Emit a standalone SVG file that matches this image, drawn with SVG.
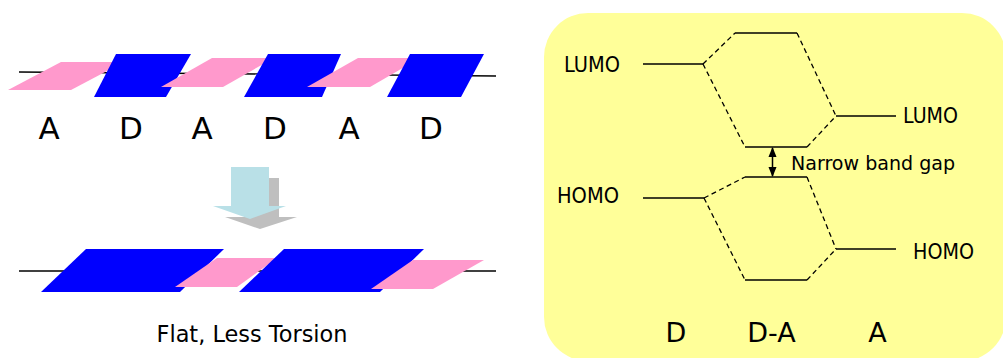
<svg xmlns="http://www.w3.org/2000/svg" width="1003" height="358" viewBox="0 0 1003 358">
<defs>
<style>
.pink{fill:#FF99CC}
.blue{fill:#0000FF}
.axis{stroke:#000;stroke-width:1.3;fill:none}
.lvl{stroke:#000;stroke-width:1.5;fill:none}
.dash{stroke:#000;stroke-width:1.3;fill:none;stroke-dasharray:5,3.5}
.t{font-family:"DejaVu Sans",Verdana,sans-serif;fill:#000}
</style>
<marker id="ah" viewBox="0 0 10 10" refX="9" refY="5" markerWidth="7" markerHeight="7" orient="auto-start-reverse">
<path d="M0,1 L10,5 L0,9 Z" fill="#000"/>
</marker>
</defs>
<rect width="1003" height="358" fill="#fff"/>

<g id="chain-twisted">
<line class="axis" x1="19" y1="72" x2="496" y2="76"/>
<polygon class="pink" points="61,62 124,62 71,90 8,90"/>
<polygon class="blue" points="116,54 191,54 166,97 94,97"/>
<polygon class="pink" points="212,58 274,58 223,87 161,87"/>
<polygon class="blue" points="268,54 341,54 322,97 244,97"/>
<polygon class="pink" points="358,58 420,58 370,87 307,87"/>
<polygon class="blue" points="410,54 484,54 461,97 387,97"/>
</g>
<g id="chain-labels">
<text class="t" x="49" y="139" font-size="31" text-anchor="middle">A</text>
<text class="t" x="131" y="139" font-size="31" text-anchor="middle">D</text>
<text class="t" x="202" y="139" font-size="31" text-anchor="middle">A</text>
<text class="t" x="275" y="139" font-size="31" text-anchor="middle">D</text>
<text class="t" x="349" y="139" font-size="31" text-anchor="middle">A</text>
<text class="t" x="431" y="139" font-size="31" text-anchor="middle">D</text>
</g>

<g id="down-arrow">
<polygon fill="#BFBFBF" points="245,178 279,178 279,217 297,217 260,229 225,217 245,217"/>
<polygon fill="#B9E0E7" points="231,167 269,167 269,206 286,206 250,219 213,206 231,206"/>
</g>

<g id="chain-flat">
<line class="axis" x1="19" y1="271" x2="496" y2="271"/>
<polygon class="blue" points="86,249 224,249 180,292 41,292"/>
<polygon class="pink" points="217,258 277,258 237,287 175,287"/>
<polygon class="blue" points="284,249 424,249 380,292 239,292"/>
<polygon class="pink" points="413,260 484,260 433,289 371,289"/>
<text class="t" x="252" y="342" font-size="23" text-anchor="middle" textLength="191" lengthAdjust="spacingAndGlyphs">Flat, Less Torsion</text>
</g>

<g id="energy-panel">
<rect x="544" y="13" width="462" height="348" rx="44" ry="44" fill="#FFFF99"/>
</g>

<g id="connectors">
<line class="lvl" x1="643" y1="64" x2="703" y2="64"/>
<line class="lvl" x1="735" y1="33" x2="797" y2="33"/>
<line class="lvl" x1="836" y1="116" x2="896" y2="116"/>
<line class="lvl" x1="745" y1="147" x2="807" y2="147"/>
<line class="dash" x1="703" y1="64" x2="735" y2="33"/>
<line class="dash" x1="797" y1="33" x2="836" y2="116"/>
<line class="dash" x1="703" y1="64" x2="745" y2="147"/>
<line class="dash" x1="807" y1="147" x2="836" y2="116"/>

<line class="lvl" x1="643" y1="198" x2="704" y2="198"/>
<line class="lvl" x1="745" y1="177" x2="807" y2="177"/>
<line class="lvl" x1="836" y1="249" x2="896" y2="249"/>
<line class="lvl" x1="745" y1="280" x2="807" y2="280"/>
<line class="dash" x1="704" y1="198" x2="745" y2="177"/>
<line class="dash" x1="807" y1="177" x2="836" y2="249"/>
<line class="dash" x1="704" y1="198" x2="745" y2="280"/>
<line class="dash" x1="807" y1="280" x2="836" y2="249"/>

<line x1="772.5" y1="148" x2="772.5" y2="176" stroke="#000" stroke-width="1.5" marker-start="url(#ah)" marker-end="url(#ah)"/>
</g>

<g id="level-labels">
<text class="t" x="564" y="72" font-size="21" textLength="56" lengthAdjust="spacingAndGlyphs">LUMO</text>
<text class="t" x="903" y="123" font-size="21" textLength="55" lengthAdjust="spacingAndGlyphs">LUMO</text>
<text class="t" x="557" y="203" font-size="21" textLength="62" lengthAdjust="spacingAndGlyphs">HOMO</text>
<text class="t" x="913" y="259" font-size="21" textLength="61" lengthAdjust="spacingAndGlyphs">HOMO</text>
<text class="t" x="791" y="170" font-size="20" textLength="164" lengthAdjust="spacingAndGlyphs">Narrow band gap</text>
<text class="t" x="676" y="342" font-size="27" text-anchor="middle">D</text>
<text class="t" x="771.5" y="342" font-size="27" text-anchor="middle">D-A</text>
<text class="t" x="877.5" y="342" font-size="27" text-anchor="middle">A</text>
</g>
</svg>
